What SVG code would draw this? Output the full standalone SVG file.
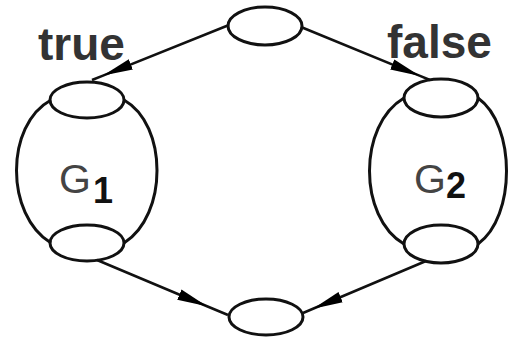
<svg xmlns="http://www.w3.org/2000/svg" width="510" height="338" viewBox="0 0 510 338">
<style>
.e{fill:none;stroke:#111;stroke-width:3}
.c{fill:none;stroke:#111;stroke-width:2.6;marker-mid:url(#ah)}
.lbl{font-family:"Liberation Sans",Arial,sans-serif;font-weight:bold;font-size:46px;fill:#333}
.g{font-family:"Liberation Sans",Arial,sans-serif;font-size:41px;fill:#444}
.sub{font-family:"Liberation Sans",Arial,sans-serif;font-weight:bold;font-size:36px;fill:#111}
</style>
<defs>
<marker id="ah" markerWidth="32" markerHeight="14" refX="30" refY="7" orient="auto" markerUnits="userSpaceOnUse">
<path d="M0,1.5 L30,7 L0,12.5 z" fill="#000"/>
</marker>
</defs>
<rect width="510" height="338" fill="#fff"/>
<g id="connectors">
<path class="c" d="M229,25 L103,75.6 L92,80"/>
<path class="c" d="M301,27 L420,75.9 L430,80"/>
<path class="c" d="M97,260 L207,306.2 L228,315"/>
<path class="c" d="M426,261 L313,308.8 L303,313"/>
</g>
<g id="top">
<ellipse class="e" cx="265" cy="26" rx="37" ry="19"/>
</g>
<g id="bottom">
<ellipse class="e" cx="266" cy="317" rx="37" ry="18"/>
</g>
<g id="G1">
<path class="e" d="M51,100 C5,125 5,215 51,243 M124,100 C168,125 168,215 124,243"/>
<ellipse class="e" cx="87" cy="100" rx="37" ry="18"/>
<ellipse class="e" cx="87" cy="243" rx="37" ry="18"/>
<text class="g" x="59" y="193">G</text>
<text class="sub" x="93" y="203">1</text>
</g>
<g id="G2">
<path class="e" d="M404,98 C358,125 358,217 404,244 M478,98 C516,125 516,217 478,244"/>
<ellipse class="e" cx="441" cy="98" rx="37" ry="19"/>
<ellipse class="e" cx="441" cy="244" rx="37" ry="19"/>
<text class="g" x="414" y="193">G</text>
<text class="sub" x="446" y="198">2</text>
</g>
<g id="labels">
<text class="lbl" x="38" y="60">true</text>
<text class="lbl" x="387" y="58">false</text>
</g>
</svg>
